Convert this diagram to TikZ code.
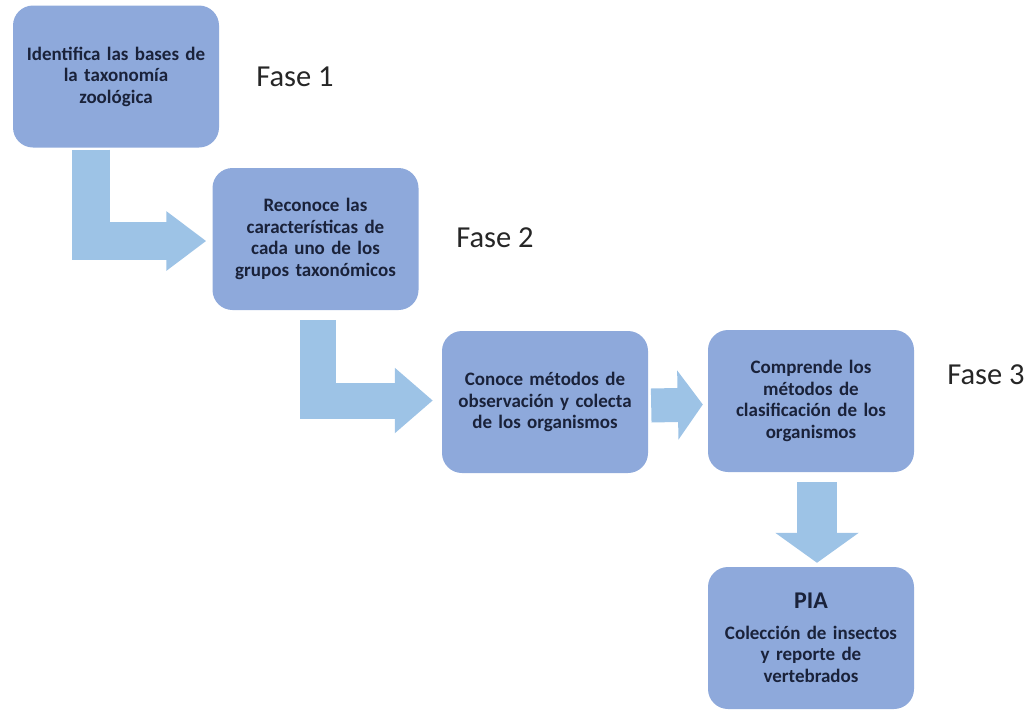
\documentclass[tikz,border=0pt]{standalone}
\usepackage{fontspec}
\setmainfont{Carlito}
\newfontfamily\cajafont{Carlito}[WordSpace=0.6]
\usetikzlibrary{arrows.meta}
\definecolor{cajaazul}{RGB}{142,169,219}
\definecolor{flechaazul}{RGB}{157,195,230}
\definecolor{textoazul}{RGB}{26,34,58}
\definecolor{fasegris}{RGB}{38,38,38}
\tikzset{
    caja/.style={rectangle, rounded corners=20pt, fill=cajaazul, minimum width=206pt, minimum height=142pt,
        text width=198pt, align=center, text=textoazul, font=\cajafont\fontsize{19}{21.5}\selectfont\bfseries},
    fase/.style={text=fasegris, font=\fontsize{30.5}{36}\selectfont},
    flecha/.style n args={3}{draw=flechaazul, line width=#1, line join=miter, -{Triangle[length=#2, width=#3]}}
}

\begin{document}
\begin{tikzpicture}[x=1pt, y=-1pt]
        \useasboundingbox (0,0) rectangle (1036,710);
        \node[caja] (B1) at (116,76.5) {Identifica las bases de\\la taxonomía\\zoológica};
        \node[caja] (B2) at (315.5,239) {Reconoce las\\características de\\cada uno de los\\grupos taxonómicos};
        \node[caja] (B3) at (545,402) {Conoce métodos de\\observación y colecta\\de los organismos};
        \node[caja] (B4) at (811,401) {Comprende los\\métodos de\\clasificación de los\\organismos};
        \node[caja] (B5) at (811,638) {{\fontsize{24}{26}\selectfont PIA}\\[9pt]Colección de insectos\\y reporte de\\vertebrados};
        \node[fase] (F1) at (295,77) {Fase 1};
        \node[fase] (F2) at (495,238) {Fase 2};
        \node[fase] (F3) at (986,375) {Fase 3};
        \draw[flecha={38pt}{40pt}{57pt}] ([xshift=-25.5pt,yshift=-2pt]B1.south) |- ([xshift=-6pt,yshift=-2pt]B2.west);
        \draw[flecha={36pt}{38pt}{63pt}] ([xshift=2pt,yshift=-10pt]B2.south) |- ([xshift=-9pt,yshift=1.5pt]B3.west);
        \draw[flecha={34pt}{25pt}{68pt}] ([xshift=3pt,yshift=-3.5pt]B3.east) -- ([xshift=-5pt,yshift=-3.5pt]B4.west);
        \draw[flecha={40pt}{30pt}{82pt}] ([xshift=6pt,yshift=-10pt]B4.south) -- ([xshift=6pt,yshift=4pt]B5.north);
    \end{tikzpicture}
\end{document}
